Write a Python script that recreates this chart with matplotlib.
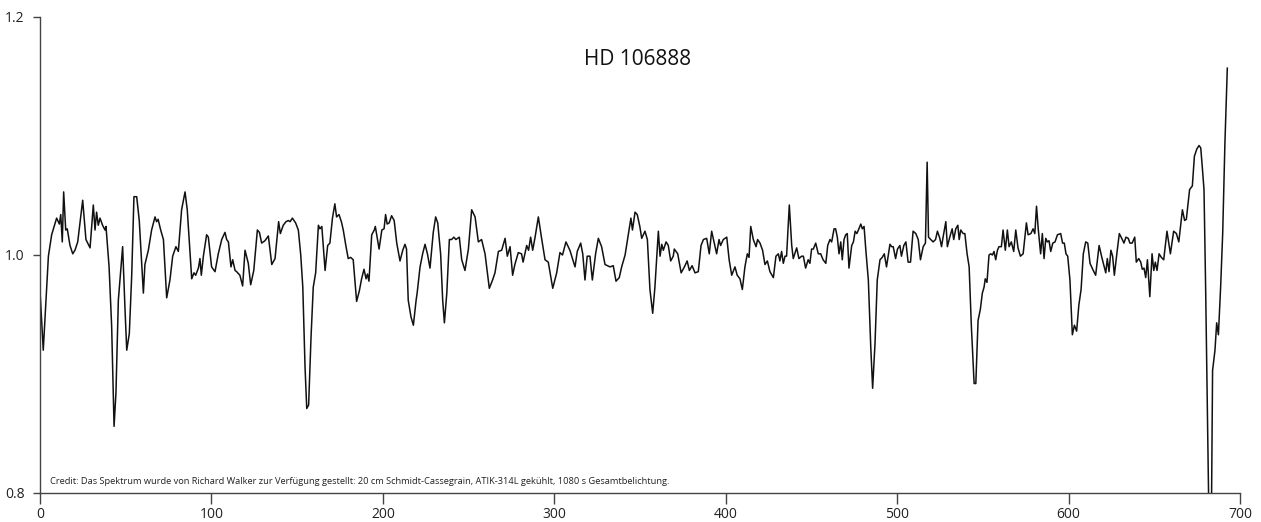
import matplotlib
matplotlib.use("Agg")
import matplotlib.pyplot as plt
import numpy as np

plt.rcParams['font.family'] = ['Open Sans', 'DejaVu Sans']

# spectrum (x position, relative intensity)
wave = [
    0.0, 1.9, 4.9, 6.8, 9.7, 11.3, 12.1, 13.0, 13.8, 15.0, 15.9, 17.5, 19.1, 20.4, 22.0, 23.3, 24.9, 26.8,
    29.2, 31.1, 32.1, 33.0, 34.0, 35.0, 36.5, 37.9, 38.5, 40.3, 41.8, 43.2, 44.3, 45.7, 48.2, 49.6, 50.6,
    52.1, 53.5, 54.8, 56.4, 57.9, 60.3, 61.2, 63.2, 65.1, 67.1, 68.0, 68.9, 70.4, 72.0, 73.9, 75.8, 77.4,
    79.3, 80.7, 82.6, 84.6, 85.9, 88.5, 89.8, 90.8, 92.4, 93.3, 94.1, 95.3, 97.2, 98.2, 100.1, 102.1, 104.0,
    106.0, 107.9, 108.9, 109.9, 111.4, 112.4, 113.8, 114.7, 116.6, 118.2, 119.6, 121.5, 122.9, 124.7, 126.8,
    128.0, 129.3, 131.2, 133.2, 135.2, 137.1, 139.2, 140.2, 141.9, 143.5, 144.9, 145.9, 147.2, 149.1, 150.7,
    152.1, 153.3, 154.6, 155.6, 156.7, 158.1, 159.4, 160.8, 162.4, 163.3, 164.4, 166.3, 167.8, 169.1, 170.6,
    172.0, 173.0, 174.4, 175.8, 176.9, 178.4, 179.8, 181.2, 182.7, 184.7, 186.3, 187.6, 189.0, 190.2, 191.0,
    191.9, 193.5, 195.0, 195.6, 197.8, 199.4, 200.7, 201.6, 202.5, 203.7, 205.1, 206.6, 208.1, 210.0, 211.6,
    212.9, 213.8, 214.8, 216.4, 217.8, 219.4, 220.0, 221.7, 223.2, 224.6, 226.0, 227.5, 229.4, 230.8, 232.0,
    233.7, 234.9, 235.9, 237.3, 238.8, 240.1, 241.4, 242.6, 244.6, 246.0, 247.9, 249.9, 251.8, 253.8, 255.7,
    257.6, 259.6, 262.1, 264.0, 265.4, 267.4, 269.3, 271.3, 272.6, 274.2, 275.7, 277.0, 279.0, 280.9, 281.8,
    283.9, 285.0, 286.2, 287.4, 288.8, 290.7, 292.6, 294.6, 296.5, 299.1, 301.4, 303.3, 304.8, 306.8, 309.1,
    312.1, 313.4, 315.4, 316.6, 317.9, 319.2, 320.8, 322.2, 324.1, 325.7, 327.6, 329.6, 332.5, 334.4, 336.0,
    337.9, 339.3, 341.3, 343.2, 344.7, 345.6, 347.1, 348.4, 349.9, 351.0, 352.9, 354.3, 355.8, 357.4, 358.7,
    360.7, 361.7, 362.7, 363.6, 365.2, 366.5, 367.9, 369.4, 370.0, 372.0, 374.0, 375.9, 377.5, 378.8, 380.4,
    382.1, 384.0, 385.6, 387.0, 388.9, 390.4, 391.8, 393.2, 394.7, 396.1, 397.0, 398.6, 400.6, 402.0, 403.5,
    405.4, 406.7, 408.3, 409.7, 411.2, 412.6, 413.6, 414.6, 416.1, 417.7, 418.6, 420.0, 421.5, 422.9, 424.3,
    425.8, 427.8, 429.3, 430.7, 431.6, 432.6, 433.6, 434.6, 435.5, 437.1, 438.5, 439.4, 441.4, 442.7, 444.3,
    445.3, 446.6, 448.1, 449.1, 450.1, 451.1, 452.5, 454.0, 455.4, 456.8, 458.4, 459.5, 460.8, 461.8, 463.2,
    464.1, 465.1, 466.1, 467.1, 468.0, 469.0, 470.0, 470.9, 471.9, 473.5, 474.5, 475.5, 476.5, 477.4, 478.8,
    479.7, 480.7, 481.8, 483.2, 484.6, 485.7, 487.1, 488.4, 490.0, 491.3, 492.5, 493.8, 495.8, 496.8, 497.7,
    499.1, 500.2, 501.6, 502.5, 503.9, 505.1, 506.4, 507.8, 509.3, 510.9, 512.3, 513.6, 515.2, 516.5, 517.5,
    518.3, 519.6, 521.0, 522.4, 523.5, 524.9, 525.9, 526.8, 528.4, 529.3, 530.7, 532.1, 533.0, 534.2, 535.4,
    536.2, 537.1, 538.5, 539.5, 540.8, 542.0, 543.3, 544.9, 545.9, 547.2, 548.5, 549.7, 550.7, 551.4, 552.4,
    553.6, 554.6, 555.6, 556.5, 557.5, 558.5, 559.4, 560.8, 561.8, 563.1, 564.3, 565.3, 566.6, 568.0, 569.2,
    570.5, 571.9, 573.5, 575.4, 576.4, 578.0, 579.3, 580.3, 581.3, 582.3, 583.7, 584.7, 585.7, 586.7, 587.6,
    588.6, 589.6, 590.8, 592.1, 593.5, 595.4, 596.5, 597.5, 598.5, 599.5, 600.8, 602.2, 603.4, 604.7, 606.0,
    607.3, 608.6, 610.0, 611.2, 612.5, 614.4, 615.8, 617.8, 619.4, 620.3, 621.7, 622.6, 623.6, 624.7, 625.7,
    626.7, 628.4, 629.6, 631.0, 632.3, 633.5, 634.8, 635.8, 637.1, 638.6, 639.5, 640.9, 642.1, 643.0, 644.0,
    645.0, 646.0, 647.4, 648.7, 649.7, 650.6, 651.6, 652.8, 654.1, 655.5, 657.4, 659.4, 661.3, 662.9, 664.3,
    666.4, 667.7, 668.7, 670.6, 672.2, 673.4, 674.8, 676.1, 677.1, 678.0, 679.0, 680.0, 681.1, 681.9, 683.3,
    684.0, 685.4, 686.4, 687.4, 688.7, 689.9, 691.2, 692.6,
]
flux = [
    0.970, 0.920, 0.999, 1.017, 1.031, 1.026, 1.034, 1.011, 1.053, 1.021, 1.022, 1.008, 1.001, 1.004, 1.011, 1.027, 1.046, 1.013,
    1.006, 1.042, 1.021, 1.036, 1.025, 1.031, 1.025, 1.021, 1.024, 0.990, 0.940, 0.856, 0.884, 0.962, 1.007, 0.954, 0.920,
    0.934, 0.983, 1.049, 1.049, 1.029, 0.968, 0.992, 1.004, 1.021, 1.032, 1.028, 1.030, 1.021, 1.013, 0.964, 0.979, 0.999,
    1.007, 1.003, 1.038, 1.053, 1.038, 0.980, 0.985, 0.983, 0.989, 0.997, 0.983, 0.999, 1.017, 1.015, 0.990, 0.986, 1.001,
    1.013, 1.019, 1.013, 1.011, 0.990, 0.996, 0.987, 0.986, 0.983, 0.974, 1.004, 0.993, 0.975, 0.987, 1.021,
    1.019, 1.010, 1.012, 1.016, 0.992, 0.997, 1.028, 1.018, 1.025, 1.028, 1.029, 1.028, 1.031, 1.027, 1.021,
    1.000, 0.973, 0.906, 0.871, 0.874, 0.931, 0.973, 0.985, 1.025, 1.022, 1.024, 0.987, 1.008, 1.010, 1.031,
    1.043, 1.032, 1.034, 1.028, 1.021, 1.008, 0.997, 0.998, 0.996, 0.961, 0.970, 0.980, 0.988, 0.980, 0.984,
    0.978, 1.017, 1.021, 1.024, 1.005, 1.021, 1.022, 1.034, 1.026, 1.027, 1.033, 1.029, 1.010, 0.995, 1.004,
    1.009, 1.005, 0.962, 0.948, 0.941, 0.962, 0.968, 0.990, 1.001, 1.009, 1.001, 0.989, 1.019, 1.032, 1.027,
    1.001, 0.962, 0.943, 0.968, 1.013, 1.013, 1.015, 1.013, 1.015, 0.996, 0.987, 1.005, 1.038, 1.032, 1.011,
    1.013, 1.001, 0.972, 0.979, 0.985, 1.003, 1.004, 1.014, 0.999, 1.007, 0.983, 0.992, 1.002, 1.001, 0.994,
    1.008, 1.004, 1.015, 1.004, 1.015, 1.032, 1.014, 0.996, 0.994, 0.972, 0.985, 1.002, 1.000, 1.011, 1.004,
    0.990, 1.003, 1.010, 1.001, 0.979, 0.999, 0.999, 0.979, 1.001, 1.014, 1.007, 0.992, 0.990, 0.991, 0.978,
    0.981, 0.990, 1.000, 1.017, 1.031, 1.021, 1.036, 1.034, 1.024, 1.014, 1.020, 1.013, 0.971, 0.951, 0.973,
    1.020, 0.999, 1.009, 1.004, 1.011, 1.008, 0.995, 0.999, 1.005, 1.001, 0.985, 0.990, 0.995, 0.987, 0.991,
    0.985, 0.986, 1.008, 1.013, 1.014, 1.001, 1.020, 1.011, 1.001, 1.013, 1.008, 1.013, 1.015, 0.996, 0.983,
    0.990, 0.983, 0.980, 0.971, 0.990, 1.001, 0.998, 1.024, 1.013, 1.007, 1.013, 1.010, 1.004, 0.992, 0.995,
    0.986, 0.981, 0.999, 1.001, 0.995, 1.003, 0.993, 0.999, 0.999, 1.042, 1.008, 0.997, 1.006, 0.997, 0.999,
    0.999, 0.989, 0.996, 0.993, 1.005, 1.005, 1.010, 1.001, 1.001, 0.996, 0.993, 1.008, 1.013, 1.011, 1.022,
    1.022, 1.015, 1.001, 1.011, 0.996, 1.013, 1.017, 1.018, 0.989, 1.008, 1.011, 1.020, 1.018, 1.021, 1.026,
    1.022, 1.024, 1.003, 0.979, 0.923, 0.888, 0.926, 0.979, 0.996, 0.998, 1.001, 0.990, 1.009, 1.007, 1.007,
    0.997, 1.005, 1.008, 0.999, 1.008, 1.011, 0.994, 0.994, 1.020, 1.018, 1.013, 0.996, 1.007, 1.010, 1.078,
    1.015, 1.013, 1.011, 1.013, 1.020, 1.014, 1.007, 1.015, 1.028, 1.007, 1.015, 1.022, 1.013, 1.022, 1.025,
    1.013, 1.021, 1.018, 1.018, 1.001, 0.990, 0.940, 0.892, 0.892, 0.945, 0.954, 0.968, 0.973, 0.980, 0.977,
    1.000, 1.001, 1.000, 1.003, 0.996, 1.004, 1.007, 1.007, 1.021, 1.004, 1.021, 1.007, 1.011, 1.003, 1.021,
    1.006, 0.999, 1.001, 1.027, 1.017, 1.018, 1.022, 1.018, 1.041, 1.022, 1.001, 1.018, 0.997, 1.014, 1.011,
    1.012, 1.003, 1.010, 1.011, 1.017, 1.018, 1.010, 1.010, 1.001, 0.999, 0.979, 0.933, 0.941, 0.936, 0.958,
    0.971, 1.001, 1.011, 1.010, 0.993, 0.987, 0.983, 1.008, 0.998, 0.993, 0.985, 0.997, 0.986, 1.004, 0.999,
    0.983, 1.004, 1.018, 1.014, 1.010, 1.015, 1.014, 1.010, 1.010, 1.015, 0.994, 0.997, 0.994, 0.988, 0.989,
    0.981, 0.996, 0.965, 1.001, 0.987, 0.994, 0.987, 1.001, 0.998, 0.996, 1.020, 1.001, 1.020, 1.018, 1.011,
    1.038, 1.029, 1.030, 1.055, 1.058, 1.083, 1.089, 1.092, 1.090, 1.074, 1.055, 0.968, 0.856, 0.775, 0.775,
    0.903, 0.920, 0.943, 0.933, 0.973, 1.018, 1.094, 1.157,
]

x_ticks = [0, 100, 200, 300, 400, 500, 600, 700]
y_ticks = [0.8, 1.0, 1.2]
title = "HD 106888"
credit = ("Credit: Das Spektrum wurde von Richard Walker zur Verfügung gestellt: 20 cm Schmidt-Cassegrain, "
          "ATIK-314L gekühlt, 1080 s Gesamtbelichtung.")

fig = plt.figure(figsize=(12.61, 5.22), dpi=100)
ax = fig.add_axes([40 / 1261, 1 - 493 / 522, 1200 / 1261, 476 / 522])

ax.plot(wave, flux, color="#111111", linewidth=1.1)

ax.set_xlim(0, 700)
ax.set_ylim(0.8, 1.2)
ax.set_xticks(x_ticks)
ax.set_yticks(y_ticks)
ax.set_xticklabels([str(t) for t in x_ticks])
ax.set_yticklabels(["0.8", "1.0", "1.2"])

for s in ["top", "right"]:
    ax.spines[s].set_visible(False)
for s in ["left", "bottom"]:
    ax.spines[s].set_color("#444444")
    ax.spines[s].set_linewidth(1.0)

ax.tick_params(axis="x", direction="out", length=8, width=1.0, color="#444444",
               labelsize=10, labelcolor="#222222", pad=2)
ax.tick_params(axis="y", direction="out", length=5, width=1.0, color="#444444",
               labelsize=10, labelcolor="#222222", pad=6)

ax.text(0.498, 0.91, title, transform=ax.transAxes, ha="center", va="center",
        fontsize=15, color="#111111")
ax.text(0.0083, 0.025, credit, transform=ax.transAxes, ha="left", va="center",
        fontsize=6.65, color="#222222")

fig.savefig("out.png", dpi=100, facecolor="white")
